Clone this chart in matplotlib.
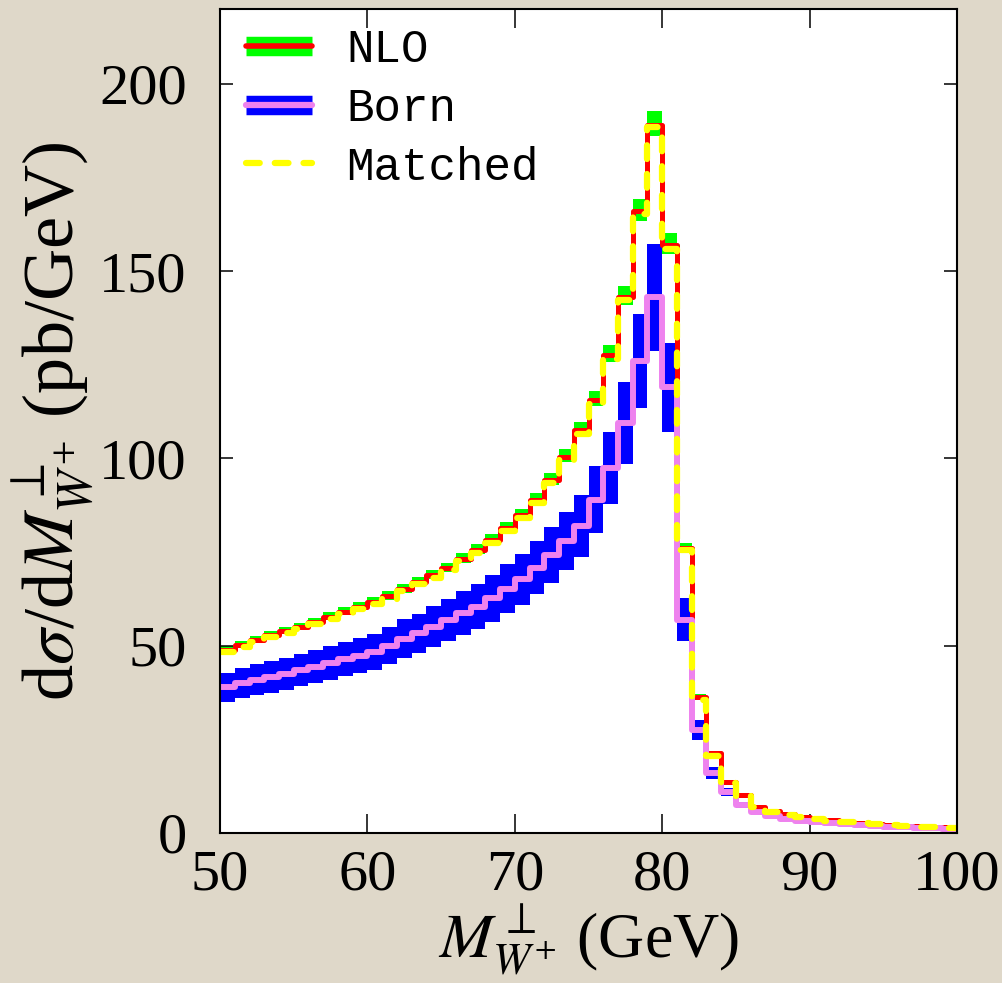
## transverse-mass distribution of the W+ : NLO / Born bands with the matched curve

import numpy as np
import matplotlib
matplotlib.use('Agg')
import matplotlib.pyplot as plt
from matplotlib.lines import Line2D
from matplotlib.legend_handler import HandlerTuple

# 1 GeV bins from 50 to 100 GeV
edges = np.arange(50, 101, 1)

nlo = [48.9, 50.2, 51.5, 52.8, 53.9, 55.1, 56.4, 57.8, 59.1, 60.4,
       61.8, 63.2, 65.2, 67.1, 68.9, 70.8, 73.2, 75.6, 78.2, 81.4,
       84.9, 88.9, 94.3, 100.5, 107.6, 115.6, 127.6, 143.2, 166.0, 189.0,
       157.0, 76.0, 36.4, 21.3, 13.7, 10.1, 7.0, 5.8, 5.0, 4.3,
       3.8, 3.4, 3.0, 2.7, 2.4, 2.2, 2.0, 1.8, 1.6, 1.5]
nlo_hi = [49.9, 51.2, 52.5, 53.9, 55.0, 56.2, 57.5, 59.0, 60.3, 61.6,
          63.0, 64.5, 66.5, 68.4, 70.3, 72.2, 74.7, 77.1, 79.8, 83.0,
          86.6, 90.7, 96.2, 102.5, 109.8, 117.9, 130.2, 146.1, 169.3, 192.8,
          160.1, 77.5, 37.1, 21.7, 14.0, 10.3, 7.1, 5.9, 5.1, 4.4,
          3.9, 3.5, 3.1, 2.75, 2.45, 2.25, 2.05, 1.85, 1.65, 1.55]
nlo_lo = [48.2, 49.4, 50.7, 52.0, 53.1, 54.3, 55.6, 56.9, 58.2, 59.5,
          60.9, 62.3, 64.2, 66.1, 67.9, 69.7, 72.1, 74.5, 77.0, 80.2,
          83.6, 87.6, 92.9, 99.0, 106.0, 113.9, 125.7, 141.1, 163.5, 186.2,
          154.6, 74.9, 35.9, 21.0, 13.5, 9.9, 6.9, 5.7, 4.9, 4.2,
          3.7, 3.35, 2.95, 2.65, 2.35, 2.15, 1.95, 1.75, 1.6, 1.45]

born = [38.9, 40.0, 40.9, 41.7, 42.5, 43.5, 44.4, 45.3, 46.4, 47.3,
        48.4, 50.0, 51.9, 53.3, 55.1, 56.9, 58.7, 60.4, 62.7, 65.2,
        67.8, 70.8, 74.2, 78.0, 82.0, 89.0, 97.5, 109.5, 126.0, 143.0,
        119.0, 57.0, 27.5, 16.0, 11.0, 7.5, 5.5, 4.5, 3.8, 3.3,
        2.9, 2.6, 2.3, 2.1, 1.9, 1.7, 1.5, 1.4, 1.25, 1.15]
born_hi = [42.7, 44.0, 45.0, 45.9, 46.8, 47.9, 48.8, 49.8, 51.0, 52.0,
           53.2, 55.0, 57.1, 58.6, 60.6, 62.6, 64.6, 66.4, 69.0, 71.7,
           74.6, 77.9, 81.6, 85.8, 90.2, 97.9, 107.2, 120.4, 138.6, 157.3,
           130.9, 62.7, 30.2, 17.6, 12.1, 8.3, 6.1, 5.0, 4.2, 3.6,
           3.2, 2.9, 2.5, 2.3, 2.1, 1.9, 1.65, 1.54, 1.38, 1.27]
born_lo = [35.0, 36.0, 36.8, 37.5, 38.3, 39.2, 40.0, 40.8, 41.8, 42.6,
           43.6, 45.0, 46.7, 48.0, 49.6, 51.2, 52.8, 54.4, 56.4, 58.7,
           61.0, 63.7, 66.8, 70.2, 73.8, 80.1, 87.8, 98.6, 113.4, 128.7,
           107.1, 51.3, 24.8, 14.4, 9.9, 6.8, 5.0, 4.0, 3.4, 3.0,
           2.6, 2.3, 2.1, 1.9, 1.7, 1.5, 1.35, 1.26, 1.13, 1.04]

matched = [48.4, 49.7, 51.0, 52.3, 53.4, 54.5, 55.8, 57.2, 58.5, 59.8,
           61.2, 62.6, 64.5, 66.4, 68.2, 70.1, 72.5, 74.8, 77.4, 80.6,
           84.0, 88.0, 93.4, 99.5, 106.5, 114.5, 126.5, 142.2, 165.3, 188.5,
           156.0, 75.5, 35.6, 20.6, 13.3, 9.9, 6.9, 5.7, 4.9, 4.2,
           3.7, 3.3, 2.9, 2.6, 2.3, 2.1, 1.9, 1.7, 1.55, 1.45]

col_bg = '#dfd8c9'
col_nlo_band = '#00ff00'
col_nlo = '#ff0000'
col_born_band = '#0000ff'
col_born = '#ee82ee'
col_match = '#ffff00'

plt.rcParams['mathtext.fontset'] = 'stix'
plt.rcParams['font.family'] = ['Liberation Serif', 'DejaVu Serif']


def steps(vals):
    # repeat last value so the final bin gets its right edge
    return np.append(vals, vals[-1])


fig = plt.figure(figsize=(10.02, 9.83), dpi=100, facecolor=col_bg)
ax = fig.add_axes([0.2196, 0.1526, 0.7355, 0.8382])
ax.set_facecolor('white')

ax.fill_between(edges, steps(nlo_lo), steps(nlo_hi), step='post',
                color=col_nlo_band, lw=0)
ax.plot(edges, steps(nlo), drawstyle='steps-post', color=col_nlo, lw=3.6,
        solid_joinstyle='round', solid_capstyle='round')
ax.fill_between(edges, steps(born_lo), steps(born_hi), step='post',
                color=col_born_band, lw=0)
ax.plot(edges, steps(born), drawstyle='steps-post', color=col_born, lw=4.3,
        solid_joinstyle='round', solid_capstyle='round')
ax.plot(edges, steps(matched), drawstyle='steps-post', color=col_match, lw=4.5,
        dashes=(2.2, 2.4), dash_capstyle='round', dash_joinstyle='round')

ax.set_xlim(50, 100)
ax.set_ylim(0, 220)
ax.set_xticks([50, 60, 70, 80, 90, 100])
ax.set_yticks([0, 50, 100, 150, 200])
ax.tick_params(axis='both', direction='in', top=True, right=True,
               width=1.1, labelsize=42)
ax.tick_params(axis='x', length=14, pad=12)
ax.tick_params(axis='y', length=9.5, pad=24)
for sp in ax.spines.values():
    sp.set_linewidth(1.5)

ax.set_xlabel(r'$M^{\perp}_{W^{+}}$ (GeV)', fontsize=46, labelpad=0)
ax.set_ylabel(r'd$\sigma$/d$M^{\perp}_{W^{+}}$ (pb/GeV)', fontsize=52, labelpad=2)

h_nlo = (Line2D([], [], color=col_nlo_band, lw=14, solid_capstyle='butt'),
         Line2D([], [], color=col_nlo, lw=4.0, solid_capstyle='round'))
h_born = (Line2D([], [], color=col_born_band, lw=14, solid_capstyle='butt'),
          Line2D([], [], color=col_born, lw=4.5, solid_capstyle='round'))
h_match = Line2D([], [], color=col_match, lw=4.5, dashes=(2.2, 2.4),
                 dash_capstyle='round')
ax.legend([h_nlo, h_born, h_match], ['NLO', 'Born', 'Matched'],
          handler_map={tuple: HandlerTuple(ndivide=1)},
          loc='upper left', bbox_to_anchor=(0.01, 0.999), frameon=False,
          prop={'family': 'Liberation Mono', 'size': 33},
          handlelength=1.44, handletextpad=0.76, labelspacing=0.32,
          borderaxespad=0.2, borderpad=0.2)

fig.savefig('out.png', dpi=100, facecolor=col_bg)
